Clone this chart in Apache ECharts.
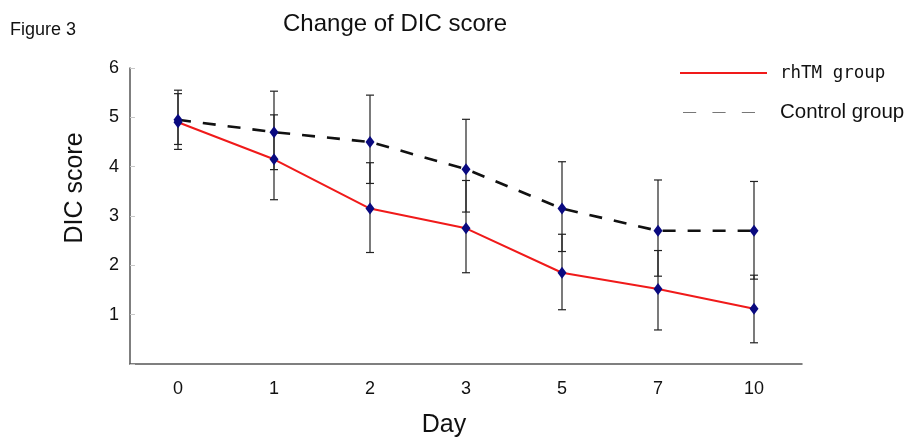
<!DOCTYPE html>
<html>
<head>
<meta charset="utf-8">
<script src="https://cdn.jsdelivr.net/npm/echarts@6/dist/echarts.min.js"></script>
<style>
  html, body { margin: 0; padding: 0; background: #fff; }
  #chart { width: 911px; height: 439px; }
</style>
</head>
<body>
<div id="chart"></div>
<script>
// 資料
const days = ['0', '1', '2', '3', '5', '7', '10'];
const rhtmMean = [4.9, 4.15, 3.15, 2.75, 1.85, 1.52, 1.12];
const rhtmLow = [4.35, 3.33, 2.26, 1.85, 1.1, 0.69, 0.43];
const rhtmHigh = [5.48, 5.05, 4.08, 3.72, 2.63, 2.3, 1.8];
const controlMean = [4.95, 4.7, 4.5, 3.95, 3.15, 2.7, 2.7];
const controlLow = [4.45, 3.94, 3.66, 3.08, 2.28, 1.78, 1.72];
const controlHigh = [5.55, 5.53, 5.45, 4.96, 4.1, 3.73, 3.7];
const yTicks = ['', '1', '2', '3', '4', '5', '6'];

const chart = echarts.init(document.getElementById('chart'));

// 誤差線資料 [x, low, high]
const errData = (low, high) => days.map((d, i) => [i, low[i], high[i]]);

const renderErr = (params, api) => {
  const x = api.value(0);
  const lo = api.coord([x, api.value(1)]);
  const hi = api.coord([x, api.value(2)]);
  const w = 4;
  const style = { stroke: '#222', lineWidth: 1.2 };
  return {
    type: 'group',
    children: [
      { type: 'line', shape: { x1: hi[0], y1: hi[1], x2: lo[0], y2: lo[1] }, style },
      { type: 'line', shape: { x1: hi[0] - w, y1: hi[1], x2: hi[0] + w, y2: hi[1] }, style },
      { type: 'line', shape: { x1: lo[0] - w, y1: lo[1], x2: lo[0] + w, y2: lo[1] }, style },
    ],
  };
};

const option = {
  backgroundColor: '#fff',
  animation: false,
  textStyle: { fontFamily: '"Liberation Sans", Arial, sans-serif' },
  title: [
    {
      text: 'Change of DIC score',
      left: 283,
      top: 12,
      padding: 0,
      textStyle: { fontSize: 24, fontWeight: 'normal', color: '#111' },
    },
    {
      text: 'Figure 3',
      left: 10,
      top: 21,
      padding: 0,
      textStyle: { fontSize: 18, fontWeight: 'normal', color: '#111' },
    },
  ],
  legend: [
    {
      data: [{ name: 'rhTM group', icon: 'rect' }],
      left: 675,
      top: 59,
      itemWidth: 87,
      itemHeight: 2,
      itemStyle: { color: '#f01a1a' },
      textStyle: {
        fontFamily: '"DejaVu Sans Mono", monospace',
        fontSize: 17.5,
        color: '#111',
        padding: [0, 0, 0, 8],
      },
    },
    {
      data: [{ name: 'Control group', icon: 'path://M0,0H13V1H0Z M29,0H42V1H29Z M58,0H71V1H58Z' }],
      left: 678,
      top: 97,
      itemWidth: 72,
      itemHeight: 2,
      itemStyle: { color: '#777' },
      textStyle: {
        fontSize: 20.5,
        color: '#111',
        padding: [0, 0, 0, 20],
      },
    },
  ],
  grid: {
    left: 130,
    right: 109,
    top: 68,
    bottom: 75,
  },
  xAxis: {
    type: 'category',
    data: days,
    axisLine: { lineStyle: { color: '#555', width: 1.5 } },
    axisTick: {
      inside: true,
      alignWithLabel: true,
      length: 6,
      lineStyle: { color: '#c8c8c8' },
    },
    axisLabel: { fontSize: 18, color: '#111', margin: 16 },
  },
  yAxis: {
    type: 'value',
    min: 0,
    max: 6,
    interval: 1,
    axisLine: { show: true, lineStyle: { color: '#555', width: 1.5 } },
    axisTick: {
      show: true,
      inside: true,
      length: 5,
      lineStyle: { color: '#c8c8c8' },
    },
    splitLine: { show: false },
    axisLabel: {
      fontSize: 18,
      color: '#111',
      margin: 11,
      fontFamily: '"Liberation Sans Narrow", "Liberation Sans", sans-serif',
      formatter: (v) => yTicks[v],
    },
  },
  graphic: [
    {
      type: 'text',
      x: 75,
      y: 188,
      rotation: Math.PI / 2,
      style: {
        text: 'DIC score',
        fontSize: 25,
        fill: '#111',
        align: 'center',
        verticalAlign: 'middle',
        fontFamily: '"Liberation Sans", Arial, sans-serif',
      },
    },
    {
      type: 'text',
      x: 444,
      y: 425,
      style: {
        text: 'Day',
        fontSize: 25,
        fill: '#111',
        align: 'center',
        verticalAlign: 'middle',
        fontFamily: '"Liberation Sans", Arial, sans-serif',
      },
    },
  ],
  series: [
    {
      type: 'custom',
      name: 'rhTM err',
      renderItem: renderErr,
      data: errData(rhtmLow, rhtmHigh),
      z: 1,
      silent: true,
    },
    {
      type: 'custom',
      name: 'Control err',
      renderItem: renderErr,
      data: errData(controlLow, controlHigh),
      z: 1,
      silent: true,
    },
    {
      name: 'Control group',
      type: 'line',
      data: controlMean,
      symbol: 'diamond',
      symbolSize: [9, 12],
      itemStyle: { color: '#0a0a80' },
      lineStyle: { color: '#111', width: 2.6, type: [13, 12] },
      z: 3,
    },
    {
      name: 'rhTM group',
      type: 'line',
      data: rhtmMean,
      symbol: 'diamond',
      symbolSize: [9, 12],
      itemStyle: { color: '#0a0a80' },
      lineStyle: { color: '#f01a1a', width: 2 },
      z: 4,
    },
  ],
};

chart.setOption(option);
</script>
</body>
</html>
